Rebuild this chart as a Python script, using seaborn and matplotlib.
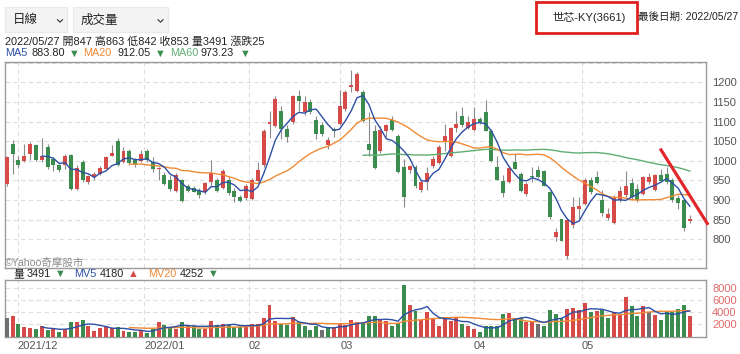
import numpy as np
import pandas as pd
import matplotlib
matplotlib.use("Agg")
import matplotlib.pyplot as plt
import seaborn as sns
from matplotlib.patches import Rectangle
from matplotlib.lines import Line2D

# ---------------- data ----------------
opens = [940, 1043, 1001, 999, 1018, 1040, 1003, 1035, 1005, 988,
         988, 1015, 927, 998, 946, 958, 967, 980, 1013, 1050,
         996, 1024, 1001, 999, 1024, 998, 979, 963, 950, 923,
         950, 935, 931, 924, 920, 946, 950, 931, 952, 924,
         909, 906, 903, 948, 988, 1094, 1088, 1128, 1081, 1098,
         1166, 1124, 1149, 1104, 1090, 1039, 1081, 1094, 1132, 1187,
         1177, 1175, 1043, 1075, 1024, 1075, 1104, 1064, 984, 977,
         984, 925, 946, 986, 994, 1047, 1013, 1083, 1115, 1084,
         1079, 1107, 1124, 1075, 985, 948, 946, 996, 967, 916,
         960, 977, 974, 921, 806, 852, 757, 836, 878, 891,
         952, 958, 899, 855, 842, 899, 912, 943, 929, 916,
         946, 925, 963, 967, 950, 906, 899, 847]
highs = [1012, 1053, 1013, 1043, 1049, 1043, 1059, 1043, 1009, 992,
         1016, 1018, 988, 1003, 964, 972, 986, 1011, 1039, 1059,
         1035, 1029, 1007, 1028, 1030, 1009, 984, 971, 963, 968,
         954, 941, 935, 931, 946, 1003, 955, 978, 958, 931,
         912, 941, 955, 998, 1080, 1128, 1165, 1139, 1090, 1168,
         1181, 1164, 1158, 1115, 1098, 1060, 1085, 1179, 1181, 1230,
         1225, 1181, 1124, 1090, 1088, 1094, 1115, 1068, 1005, 990,
         988, 951, 984, 1011, 1039, 1094, 1086, 1128, 1137, 1115,
         1137, 1111, 1155, 1081, 1013, 963, 986, 1018, 971, 946,
         984, 986, 977, 924, 829, 853, 853, 908, 908, 955,
         958, 975, 925, 880, 914, 937, 975, 955, 940, 962,
         968, 966, 980, 985, 955, 912, 902, 863]
lows = [936, 967, 982, 996, 1001, 1000, 996, 980, 975, 972,
        980, 925, 925, 945, 942, 950, 965, 978, 1011, 986,
        994, 990, 985, 997, 998, 971, 950, 939, 924, 920,
        895, 920, 920, 904, 916, 937, 920, 928, 914, 895,
        894, 901, 900, 946, 985, 1057, 1085, 1056, 1047, 1094,
        1128, 1117, 1120, 1056, 1063, 1030, 1060, 1090, 1128, 1175,
        1175, 1098, 1013, 980, 1020, 1060, 1075, 968, 882, 970,
        930, 920, 926, 982, 992, 1026, 1009, 1073, 1086, 1081,
        1075, 1094, 1075, 998, 950, 907, 943, 980, 920, 910,
        946, 955, 935, 852, 797, 795, 751, 830, 852, 887,
        916, 940, 860, 850, 840, 896, 908, 901, 895, 912,
        940, 922, 945, 940, 896, 878, 822, 842]
closes = [1009, 1018, 988, 1013, 1043, 1003, 1011, 985, 990, 977,
          1013, 927, 982, 952, 960, 967, 982, 1009, 1019, 988,
          1026, 994, 988, 1018, 1001, 978, 981, 941, 929, 963,
          897, 924, 921, 914, 943, 968, 924, 974, 918, 907,
          897, 935, 950, 977, 1077, 1100, 1158, 1081, 1060, 1164,
          1153, 1149, 1124, 1067, 1067, 1054, 1075, 1139, 1175, 1194,
          1221, 1101, 1028, 982, 1079, 1090, 1079, 971, 907, 986,
          935, 946, 968, 1005, 1035, 1064, 1084, 1094, 1090, 1098,
          1107, 1098, 1077, 1000, 952, 918, 982, 980, 923, 941,
          958, 958, 937, 856, 818, 797, 850, 882, 884, 950,
          920, 943, 866, 865, 906, 922, 937, 907, 901, 958,
          958, 963, 948, 946, 900, 892, 828, 853]
volumes = [3060, 3440, 2070, 1620, 1350, 1230, 1670, 1130, 1230, 780,
           1230, 2390, 2390, 2760, 1670, 960, 1400, 1510, 1400, 1510,
           960, 780, 780, 1130, 600, 1230, 2330, 1950, 1570, 1230,
           2390, 1950, 1670, 1230, 1230, 2600, 1950, 2070, 1950, 1570,
           1510, 1950, 2070, 2070, 3060, 5260, 2600, 2070, 1950, 3220,
           2330, 1670, 1130, 1790, 1130, 1570, 1510, 2070, 1950, 2760,
           2330, 2220, 3440, 3400, 2700, 2600, 1800, 2200, 8600, 5300,
           4300, 2700, 4000, 3100, 1800, 3200, 2500, 3000, 2000, 1700,
           1300, 700, 1700, 1800, 1800, 3700, 3900, 3000, 3000, 2400,
           2400, 2100, 1800, 4400, 3800, 3000, 4500, 4700, 4400, 5500,
           4000, 4300, 4400, 3100, 4100, 3500, 6600, 5000, 3400, 5000,
           4000, 3600, 2800, 4000, 4000, 4500, 5300, 3491]
month_labels = ["2021/12", "2022/01", "02", "03", "04", "05"]
month_pos = [1.9, 23.5, 41.5, 57.1, 80.0, 98.5]
price_ticks = [750, 800, 850, 900, 950, 1000, 1050, 1100, 1150, 1200, 1250]
vol_ticks = [2000, 4000, 6000, 8000]

# ---------------- style ----------------
sns.set_theme(style="white")
plt.rcParams["font.family"] = ["Liberation Sans", "Noto Sans CJK TC", "DejaVu Sans"]
plt.rcParams["axes.unicode_minus"] = False

RED = "#d64a48"
GREEN = "#3a8d4f"
GRAY = "#6f6f6f"
BLUE = "#2d4fa5"
ORANGE = "#f08a35"
MA60C = "#5eae74"
GRIDC = "#dddddd"
SPINE = "#9a9a9a"
TXT = "#222222"

W, H = 740, 354
fig = plt.figure(figsize=(7.4, 3.54), dpi=100)
fig.patch.set_facecolor("white")


def fx(px):
    return px / W


def fy(py):
    return 1 - py / H


ax = fig.add_axes([fx(5), fy(268), fx(706) - fx(5), fy(62) - fy(268)])
axv = fig.add_axes([fx(5), fy(336.5), fx(706) - fx(5), fy(280) - fy(336.5)])

n = len(closes)
df = pd.DataFrame({"idx": np.arange(n), "open": opens, "high": highs,
                   "low": lows, "close": closes, "vol": volumes})
for w in (5, 20, 60):
    m = df["close"].rolling(w).mean()
    m.iloc[: w + 1] = np.nan
    df[f"ma{w}"] = m
for w in (5, 20):
    m = df["vol"].rolling(w).mean()
    m.iloc[: w + 1] = np.nan
    df[f"mv{w}"] = m

# ---------------- price panel ----------------
up = df["close"] >= df["open"]
ccol = np.where(up, RED, GREEN)
ax.vlines(df["idx"], df["low"], df["high"], color="#8a8a8a", lw=0.8, zorder=2)
ax.bar(df["idx"], np.maximum((df["close"] - df["open"]).abs(), 1.6),
       bottom=np.minimum(df["open"], df["close"]), width=0.68,
       color=ccol, linewidth=0, zorder=3)

for col, c in (("ma60", MA60C), ("ma20", ORANGE), ("ma5", BLUE)):
    sub = df.dropna(subset=[col])
    sns.lineplot(data=sub, x="idx", y=col, ax=ax, color=c, lw=1.0,
                 estimator=None, legend=False, zorder=4)

ax.set_xlim(-0.29, 119.74)
ax.set_ylim(727, 1251.5)
ax.set_yticks(price_ticks)
ax.set_yticklabels(["" if (t < 800 or t > 1200) else str(t) for t in price_ticks])
ax.yaxis.tick_right()
ax.tick_params(axis="y", length=0, pad=4.5, labelsize=8, labelcolor="#555555")
ax.set_xticks(month_pos)
ax.tick_params(axis="x", length=0, labelbottom=False)
ax.grid(True, color=GRIDC, lw=0.8, linestyle=(0, (4, 3)))
ax.set_axisbelow(True)
ax.set_xlabel("")
ax.set_ylabel("")
for s in ax.spines.values():
    s.set_color(SPINE)
    s.set_linewidth(1.0)

ax.text(0.0, 0.025, "©Yahoo奇摩股市", transform=ax.transAxes, fontsize=7.6,
        color="#8c8c8c", ha="left", va="center")

# red trend annotation line
ax.plot([111.9, 120.1], [1031, 837], color="#e3262a", lw=2.3,
        solid_capstyle="butt", clip_on=False, zorder=6)

# ---------------- volume panel ----------------
diff = df["close"].diff()
vcol = np.where(diff > 0, RED, np.where(diff < 0, GREEN, GRAY))
axv.bar(df["idx"], df["vol"], width=0.68, color=vcol, linewidth=0, zorder=3)
for col, c in (("mv20", ORANGE), ("mv5", BLUE)):
    sub = df.dropna(subset=[col])
    sns.lineplot(data=sub, x="idx", y=col, ax=axv, color=c, lw=1.0,
                 estimator=None, legend=False, zorder=4)
axv.set_xlim(-0.29, 119.74)
axv.set_ylim(0, 9400)
axv.set_yticks(vol_ticks)
axv.set_yticklabels([str(t) for t in vol_ticks])
axv.yaxis.tick_right()
axv.tick_params(axis="y", length=0, pad=4.5, labelsize=8, labelcolor="#e06a6a")
axv.set_xticks(month_pos)
axv.set_xticklabels(month_labels)
axv.tick_params(axis="x", length=0, pad=3.5, labelsize=8, labelcolor="#555555")
for lab in axv.get_xticklabels():
    lab.set_horizontalalignment("left")
axv.grid(True, color=GRIDC, lw=0.8, linestyle=(0, (4, 3)))
axv.set_axisbelow(True)
axv.set_xlabel("")
axv.set_ylabel("")
for s in axv.spines.values():
    s.set_color(SPINE)
    s.set_linewidth(1.0)

# ---------------- header ----------------
for (x0, x1, label, chev) in ((5, 67, "日線", 60), (73, 168, "成交量", 160.5)):
    fig.patches.append(Rectangle((fx(x0), fy(32)), fx(x1) - fx(x0), fy(7) - fy(32),
                                 transform=fig.transFigure, facecolor="#f3f3f3",
                                 edgecolor="#e9e9e9", lw=0.8))
    fig.text(fx(x0 + 8), fy(20.5), label, fontsize=9, color=TXT,
             ha="left", va="center")
    fig.lines.append(Line2D([fx(chev - 2.6), fx(chev), fx(chev + 2.6)],
                            [fy(19.6), fy(22.2), fy(19.6)],
                            transform=fig.transFigure, color="#444444", lw=0.9))

fig.text(fx(5), fy(41.5), "2022/05/27 開847 高863 低842 收853 量3491 漲跌25",
         fontsize=7.9, color=TXT, ha="left", va="center")

FS = 7.8
row2 = [(5, "MA5", BLUE), (31, "883.80", TXT), (69, "▼", GREEN),
        (83, "MA20", ORANGE), (117, "912.05", TXT), (155, "▼", GREEN),
        (170, "MA60", MA60C), (200.5, "973.23", TXT), (239.5, "▼", GREEN)]
for x, t, c in row2:
    fig.text(fx(x), fy(53.5), t, fontsize=FS, color=c, ha="left", va="center")

row3 = [(13, "量", TXT), (27, "3491", TXT), (55, "▼", GREEN),
        (74, "MV5", BLUE), (100, "4180", TXT), (128, "▲", RED),
        (148, "MV20", ORANGE), (180, "4252", TXT), (208, "▼", GREEN)]
for x, t, c in row3:
    fig.text(fx(x), fy(274), t, fontsize=FS, color=c, ha="left", va="center")

fig.patches.append(Rectangle((fx(536), fy(33)), fx(637) - fx(536), fy(1.5) - fy(33),
                             transform=fig.transFigure, fill=False,
                             edgecolor="#e0201e", lw=2.0))
fig.text(fx(589), fy(17), "世芯-KY(3661)", fontsize=8.0, color=TXT,
         ha="center", va="center")
fig.text(fx(637.5), fy(17), "最後日期: 2022/05/27", fontsize=7.6, color=TXT,
         ha="left", va="center")

fig.savefig("out.png", dpi=100, facecolor="white")
